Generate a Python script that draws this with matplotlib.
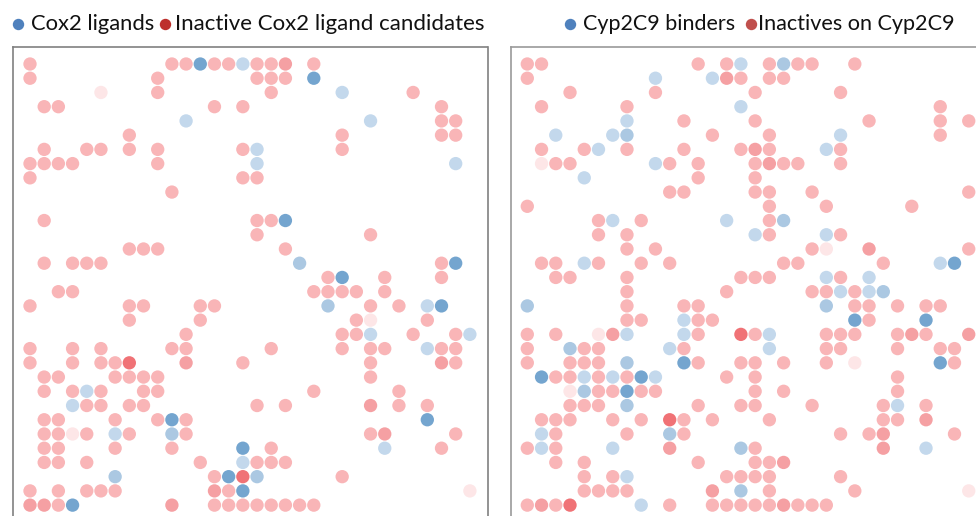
import matplotlib
matplotlib.use('Agg')
import matplotlib.pyplot as plt
from matplotlib.lines import Line2D

W, H = 976, 516

# rows of the pale pink cells, row number: columns
cox2_pink = {
    0: [0, 10, 11, 13, 14, 16, 17, 20], 1: [0, 9, 16, 17, 18], 2: [9, 17, 27],
    3: [1, 2, 13, 15, 29], 4: [29, 30], 5: [7, 22, 29, 30],
    6: [1, 4, 5, 7, 9, 15, 22], 7: [0, 1, 2, 3, 9], 8: [0, 15, 16], 9: [10],
    11: [1, 16, 17], 12: [16, 24], 13: [7, 8, 9, 18], 14: [1, 3, 4, 5, 29],
    15: [21, 25, 29], 16: [2, 3, 20, 21, 22, 23, 25],
    17: [0, 7, 8, 12, 13, 24, 26], 18: [7, 12, 23, 28],
    19: [11, 22, 23, 27, 30], 20: [0, 3, 5, 10, 11, 17, 22, 24, 25, 29, 30],
    21: [0, 3, 5, 6, 15, 24, 30], 22: [1, 2, 6, 7, 8, 9, 24],
    23: [1, 3, 5, 8, 9, 20, 26], 24: [4, 5, 7, 8, 16, 18, 26, 28],
    25: [1, 2, 6, 9, 11], 26: [1, 2, 4, 7, 11, 24, 30],
    27: [1, 2, 6, 10, 17, 29], 28: [1, 2, 4, 12, 16, 17, 18], 29: [13, 22],
    30: [0, 2, 4, 5, 6, 14], 31: [2, 13, 14, 15, 16, 17, 18, 19, 20],
}
# the other shades, as (row, column)
cox2_faint = [(2, 5), (18, 24), (26, 3), (30, 31)]
cox2_red = [(0, 18), (21, 11), (21, 29), (24, 24), (26, 25), (30, 13), (31, 0), (31, 1), (31, 10)]
cox2_strong = [(21, 7), (29, 15)]
cox2_light = [(0, 15), (2, 22), (4, 11), (4, 24), (6, 16), (7, 16), (7, 30), (17, 28),
              (19, 24), (19, 31), (20, 28), (23, 4), (24, 3), (26, 6), (27, 25), (28, 15)]
cox2_mid = [(14, 19), (17, 21), (26, 10), (29, 6), (29, 16)]
cox2_dark = [(0, 12), (1, 20), (11, 18), (14, 30), (15, 22), (17, 29), (25, 10), (25, 28),
             (27, 15), (29, 14), (30, 15), (31, 3)]

cyp_pink = {
    0: [0, 1, 12, 14, 17, 19, 20, 23], 1: [0, 15, 17, 18], 2: [3, 9, 16, 22],
    3: [1, 7, 29], 4: [11, 16, 24, 29, 31], 5: [13, 17, 29],
    6: [1, 4, 7, 11, 15, 17, 22], 7: [2, 3, 10, 12, 16, 18, 19, 22], 8: [12, 16],
    9: [10, 11, 16, 17, 20, 31], 10: [0, 17, 21, 27], 11: [5, 8, 17],
    12: [5, 7, 17, 22], 13: [7, 9, 20, 31], 14: [1, 2, 5, 8, 10, 18, 19, 25],
    15: [2, 3, 7, 15, 16, 17, 22], 16: [7, 14, 20, 21, 23],
    17: [7, 11, 12, 23, 24, 26, 28, 29], 18: [7, 8, 12, 13, 24],
    19: [0, 2, 12, 16, 21, 22, 23, 26, 28], 20: [0, 4, 5, 11, 21, 22, 26, 29, 30],
    21: [0, 3, 4, 5, 12, 15, 16, 18, 21, 30], 22: [2, 3, 5, 7, 14, 16, 26],
    23: [5, 6, 8, 9, 16, 18, 26], 24: [3, 4, 5, 12, 15, 16, 20, 25, 28],
    25: [1, 2, 3, 6, 8, 11, 13, 17, 25, 26], 26: [2, 7, 11, 22, 24, 30],
    27: [0, 2, 16], 28: [2, 4, 12, 16, 17], 29: [4, 6, 14, 15, 16, 17, 22],
    30: [4, 5, 6, 7, 17, 23], 31: [0, 2, 10, 13, 14, 15, 16, 17, 19, 20, 21],
}
cyp_faint = [(7, 1), (13, 21), (19, 5), (21, 23), (23, 3), (30, 31)]
cyp_red = [(1, 14), (6, 16), (7, 17), (13, 24), (19, 6), (19, 27), (19, 31), (25, 28),
           (26, 25), (27, 10), (27, 25), (28, 18), (30, 13), (31, 1), (31, 18)]
cyp_strong = [(19, 15), (25, 10), (31, 3)]
cyp_light = [(0, 15), (1, 9), (1, 13), (3, 15), (4, 7), (5, 2), (5, 6), (5, 22), (6, 5),
             (6, 21), (7, 9), (8, 4), (11, 6), (11, 14), (12, 16), (12, 21), (14, 4),
             (14, 29), (15, 21), (15, 24), (16, 22), (16, 24), (18, 11), (19, 7),
             (19, 11), (19, 17), (20, 10), (20, 17), (22, 4), (22, 6), (22, 9), (24, 26),
             (26, 1), (27, 1), (27, 6), (27, 28), (29, 7), (31, 8)]
cyp_mid = [(0, 18), (5, 7), (11, 18), (16, 25), (17, 0), (17, 21), (20, 3), (21, 7),
           (23, 4), (24, 7), (26, 10), (27, 15), (30, 15)]
cyp_dark = [(14, 30), (18, 23), (18, 28), (21, 11), (21, 29), (22, 1), (22, 8), (23, 7)]

shades = {'pink': '#f9b5b7', 'faint': '#fde6e7', 'red': '#f5a0a3', 'strong': '#f07276',
          'light': '#c3d8ec', 'mid': '#abc8e2', 'dark': '#74a5cf'}

plt.rcParams['font.family'] = ['Lato', 'DejaVu Sans']
fig = plt.figure(figsize=(W / 100, H / 100), dpi=100)


def panel(left, right, col0, step, pink, others, edge):
    ax = fig.add_axes([left / W, 0, (right - left) / W, (H - 46.5) / H])
    ax.set_xlim((left - col0) / step, (right - col0) / step)
    ax.set_ylim((H - 64) / 14.23, (46.5 - 64) / 14.23)
    cells = [(r, c) for r, cols in pink.items() for c in cols]
    for name, pts in [('pink', cells)] + others:
        ax.scatter([p[1] for p in pts], [p[0] for p in pts], s=92, color=shades[name],
                   edgecolors='none')
    ax.set_xticks([])
    ax.set_yticks([])
    ax.spines['bottom'].set_visible(False)
    for s in ax.spines.values():
        s.set_color(edge)
        s.set_linewidth(1.2)
    return ax


ax1 = panel(12.5, 487.5, 30, 14.19, cox2_pink,
            [('faint', cox2_faint), ('red', cox2_red), ('strong', cox2_strong),
             ('light', cox2_light), ('mid', cox2_mid), ('dark', cox2_dark)], '#808080')
ax2 = panel(510.5, 990, 527.3, 14.24, cyp_pink,
            [('faint', cyp_faint), ('red', cyp_red), ('strong', cyp_strong),
             ('light', cyp_light), ('mid', cyp_mid), ('dark', cyp_dark)], '#9a9a9a')


def key(x, color, label, tx, size):
    fig.add_artist(Line2D([x / W], [1 - 23.5 / H], marker='o', markersize=8.2, color=color,
                          markeredgecolor='none', linestyle='none', transform=fig.transFigure))
    fig.text(tx / W, 1 - 24.5 / H, label, fontsize=size, va='center', ha='left', color='#111111')


key(17.5, '#4f81bd', 'Cox2 ligands', 31, 15.8)
key(165, '#bd2f2c', 'Inactive Cox2 ligand candidates', 175, 16)
key(570, '#4f81bd', 'Cyp2C9 binders', 583, 15.5)
key(750.7, '#c0504d', 'Inactives on Cyp2C9', 758, 15.6)

fig.savefig('out.png', dpi=100)
